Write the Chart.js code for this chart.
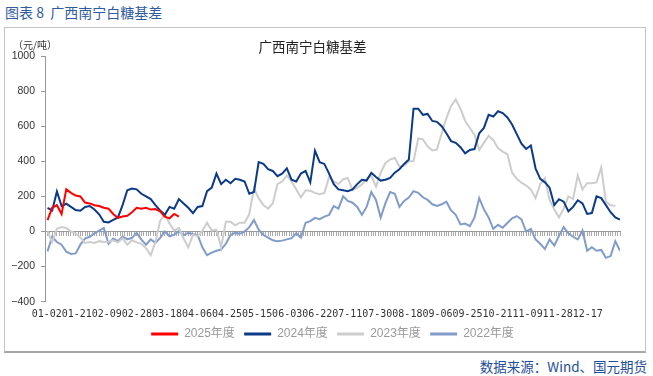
<!DOCTYPE html>
<html>
<head>
<meta charset="utf-8">
<script src="https://cdn.jsdelivr.net/npm/chart.js@4.4.1/dist/chart.umd.min.js"></script>
<style>
  body { margin: 0; width: 653px; height: 376px; background: #fff; position: relative; overflow: hidden; font-family: "Noto Sans CJK SC", sans-serif; }
  #head { position: absolute; left: 5px; top: 5px; font-size: 14px; line-height: 14px; color: #2f5b9f; white-space: pre; }
  #frame { position: absolute; left: 4px; top: 27px; width: 640px; height: 323px; border: 1px solid #c4c4c4; border-bottom: 2px solid #a8a8a8; }
  #frame canvas { display: block; }
  #src { position: absolute; right: 6px; top: 359px; font-size: 13.5px; line-height: 14px; color: #1f4e9a; }
</style>
</head>
<body>
<div id="head">图表 8  广西南宁白糖基差</div>
<div id="frame"><canvas id="myChart" width="640" height="323"></canvas></div>
<div id="src">数据来源：Wind、国元期货</div>
<script>
  const STEP = 2;
  const tickLabels = ['01-02','01-21','02-09','02-28','03-18','04-06','04-25','05-15','06-03','06-22',
                      '07-11','07-30','08-18','09-06','09-25','10-21','11-09','11-28','12-17'];
  const seriesNames = ['2025年度', '2024年度', '2023年度', '2022年度'];

  const s2025 = [65,135,150,100,240,220,205,200,165,160,150,145,135,130,100,78,85,90,110,135,
                 130,135,125,128,115,85,75,100,85];

  const s2024 = [135,120,228,145,158,140,122,118,140,145,125,98,55,52,66,80,150,235,245,240,
                 215,200,185,150,120,95,140,130,185,160,135,105,140,145,230,250,330,270,295,275,
                 300,295,285,215,225,395,385,355,345,315,330,360,295,285,330,345,280,460,395,385,
                 330,270,240,235,230,240,270,295,290,335,310,290,295,305,335,355,385,410,700,700,
                 665,670,630,625,600,560,515,505,480,445,465,470,560,590,665,655,685,675,650,610,
                 555,500,470,490,360,300,280,250,150,184,170,115,140,178,160,100,105,200,190,150,
                 110,80,68];

  const s2023 = [0,-60,15,25,20,0,-10,-35,-65,-60,-65,-55,-60,-58,-50,-62,-38,-75,-50,-62,
                 -70,-95,-135,-60,60,97,45,5,20,-40,-90,-20,-25,5,50,5,10,-90,55,55,
                 35,50,50,100,245,190,150,130,160,270,285,320,285,240,195,235,232,220,212,220,
                 310,285,270,298,305,235,250,268,300,320,255,335,390,410,420,370,375,400,400,530,
                 525,485,462,468,560,645,715,752,700,630,590,550,465,505,545,520,475,455,440,335,
                 300,278,262,240,190,270,305,180,125,80,130,200,185,320,240,275,275,280,365,170,
                 150,146];

  const s2022 = [-113,-30,-60,-75,-115,-128,-125,-75,-40,-30,-10,5,20,-70,-40,-55,-28,-45,-36,-8,
                 -46,-75,-45,-65,-36,0,-27,-18,2,-22,-8,-15,-20,-90,-135,-120,-110,-103,-70,-20,
                 -8,-13,0,25,65,10,-20,-35,-50,-55,-52,-45,-38,-10,-35,50,59,78,70,85,
                 95,145,130,200,174,164,140,95,140,225,180,80,160,225,215,140,174,193,230,220,
                 195,180,155,145,155,170,120,95,40,45,30,80,190,126,80,15,38,21,48,75,
                 88,69,0,15,-45,-70,-100,-45,-80,-25,25,-10,-30,-45,5,-110,-90,-110,-105,-150,
                 -140,-55,-110];

  const X_MIN = -1.07, X_MAX = 244;
  const LABEL_EVERY = 12.81, LABEL_OFFSET = -0.34;
  const unitText = '（元/吨）';

  const toPoints = arr => arr.map((v, i) => ({ x: i * STEP, y: v }));

  const colors = ['#ff0000', '#0b3a86', '#cdcdcd', '#819cc9'];
  const seriesData = [s2025, s2024, s2023, s2022];

  const data = {
    datasets: seriesNames.map((name, i) => ({
      label: name,
      data: toPoints(seriesData[i]),
      borderColor: colors[i],
      backgroundColor: colors[i],
      borderWidth: 2,
      pointRadius: 0,
      tension: 0
    }))
  };

  const unitLabel = {
    id: 'unitLabel',
    afterDraw(chart) {
      const { ctx, chartArea } = chart;
      ctx.save();
      ctx.font = '10px "Noto Sans CJK SC"';
      ctx.fillStyle = '#333';
      ctx.textAlign = 'center';
      ctx.textBaseline = 'middle';
      ctx.fillText(unitText, chartArea.left - 10, chartArea.top - 11);
      ctx.restore();
    }
  };

  const config = {
    type: 'line',
    data: data,
    plugins: [unitLabel],
    options: {
      responsive: false,
      animation: false,
      layout: { padding: { left: 0, right: 25, top: 0, bottom: 1 } },
      plugins: {
        title: {
          display: true,
          text: '广西南宁白糖基差',
          color: '#222',
          font: { size: 13.5, family: '"Noto Sans CJK SC"', weight: 'normal' },
          padding: { top: 10.6, bottom: 1.2 }
        },
        legend: {
          position: 'bottom',
          fullSize: false,
          labels: {
            usePointStyle: true,
            pointStyle: 'line',
            pointStyleWidth: 27,
            padding: 9.3,
            color: '#999',
            font: { size: 12, family: '"Liberation Sans", "Noto Sans CJK SC"' },
            generateLabels: chart =>
              Chart.defaults.plugins.legend.labels.generateLabels(chart).map(l => ({ ...l, lineWidth: 3 }))
          }
        },
        tooltip: { enabled: false }
      },
      scales: {
        x: {
          type: 'linear',
          min: X_MIN, max: X_MAX,
          grid: { display: false, drawTicks: false },
          border: { display: false },
          ticks: {
            autoSkip: false, maxRotation: 0, minRotation: 0, padding: 7,
            color: '#333',
            font: { size: 10, family: '"DejaVu Sans Mono"' },
            callback: (v, i) => tickLabels[i]
          },
          afterBuildTicks(s) {
            s.ticks = tickLabels.map((_, k) => ({ value: k * LABEL_EVERY + LABEL_OFFSET }));
          },
          afterFit(s) { s.height = 17; }
        },
        x0: {
          type: 'linear', axis: 'x',
          position: { y: 0 },
          min: X_MIN, max: X_MAX,
          ticks: { display: false },
          grid: { drawOnChartArea: false, drawTicks: true, tickLength: 4, color: '#aaa' },
          border: { color: '#999' },
          afterBuildTicks(s) {
            const t = [];
            for (let v = -1; v <= X_MAX; v++) t.push({ value: v });
            s.ticks = t;
          }
        },
        y: {
          min: -400, max: 1000,
          ticks: {
            stepSize: 200, padding: 6, color: '#333',
            font: { size: 10.5, family: '"Liberation Sans"' },
            callback: v => (v < 0 ? '−' + (-v) : v)
          },
          grid: { drawOnChartArea: false, drawTicks: true, tickLength: 4, color: '#999' },
          border: { color: '#999' },
          afterFit(s) { s.width = 40; }
        }
      }
    }
  };

  const myChart = new Chart(document.getElementById('myChart'), config);
</script>
</body>
</html>
